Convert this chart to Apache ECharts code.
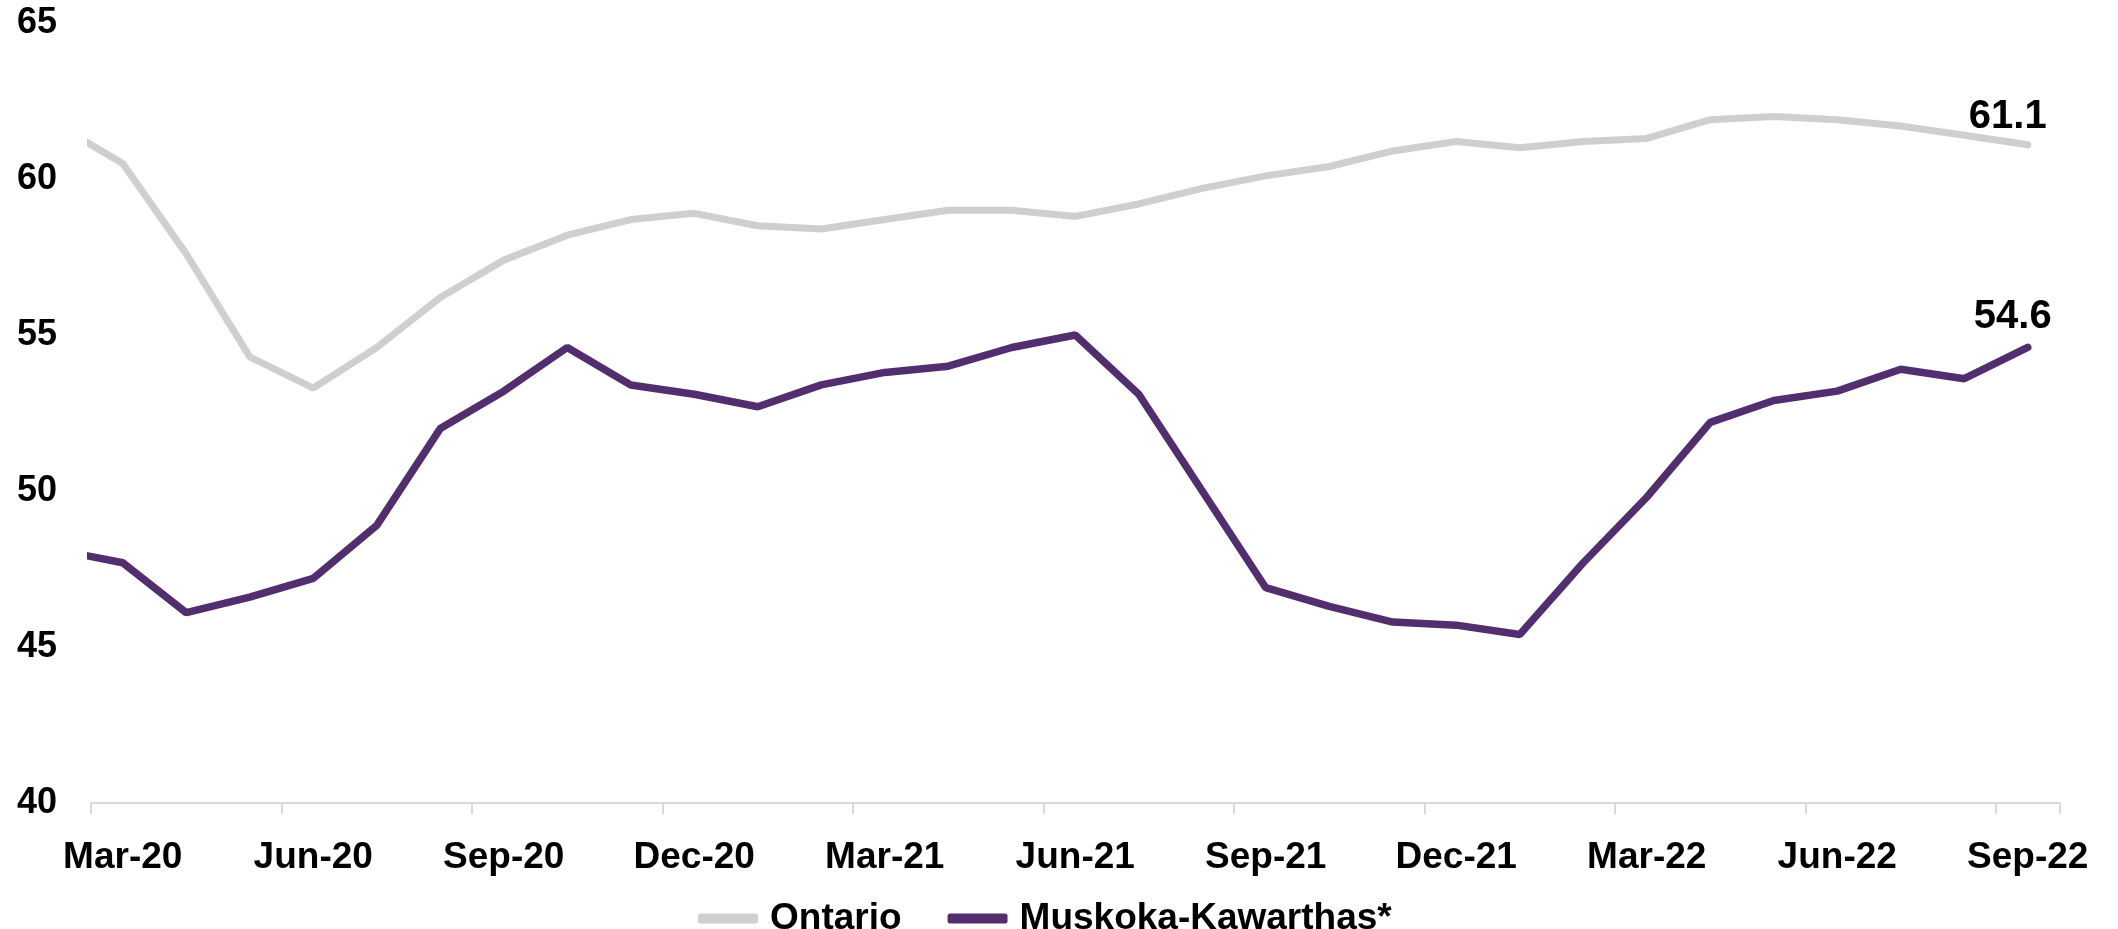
<!DOCTYPE html>
<html>
<head>
<meta charset="utf-8">
<script src="https://cdn.jsdelivr.net/npm/echarts@6/dist/echarts.min.js"></script>
<style>
  html, body { margin: 0; padding: 0; background: #ffffff; }
  #chart { width: 2118px; height: 929px; }
</style>
</head>
<body>
<div id="chart"></div>
<script>
// Monthly categories (Feb-20 is just before the visible axis; its segment is clipped)
const categories = [
  'Feb-20','Mar-20','Apr-20','May-20','Jun-20','Jul-20','Aug-20','Sep-20','Oct-20','Nov-20','Dec-20',
  'Jan-21','Feb-21','Mar-21','Apr-21','May-21','Jun-21','Jul-21','Aug-21','Sep-21','Oct-21','Nov-21','Dec-21',
  'Jan-22','Feb-22','Mar-22','Apr-22','May-22','Jun-22','Jul-22','Aug-22','Sep-22'
];
const ontario = [
  61.7, 60.5, 57.6, 54.3, 53.3, 54.6, 56.2, 57.4, 58.2, 58.7, 58.9,
  58.5, 58.4, 58.7, 59.0, 59.0, 58.8, 59.2, 59.7, 60.1, 60.4, 60.9, 61.2,
  61.0, 61.2, 61.3, 61.9, 62.0, 61.9, 61.7, 61.4, 61.1
];
const muskoka = [
  48.1, 47.7, 46.1, 46.6, 47.2, 48.9, 52.0, 53.2, 54.6, 53.4, 53.1,
  52.7, 53.4, 53.8, 54.0, 54.6, 55.0, 53.1, 50.0, 46.9, 46.3, 45.8, 45.7,
  45.4, 47.7, 49.8, 52.2, 52.9, 53.2, 53.9, 53.6, 54.6
];
const seriesNames = ['Ontario', 'Muskoka-Kawarthas*'];
const yTicks = { min: 40, max: 65, interval: 5 };

const FONT = '"Liberation Sans", Arial, sans-serif';
const showEvery3 = (idx) => idx % 3 === 1;
const endLabelStyle = (dx, dy) => ({
  show: true,
  formatter: (p) => Number(p.value).toFixed(1),
  distance: 0,
  align: 'center',
  verticalAlign: 'bottom',
  offset: [dx, dy],
  fontFamily: FONT, fontSize: 40, fontWeight: 'bold', color: '#000'
});

const chart = echarts.init(document.getElementById('chart'), null, { renderer: 'canvas' });
chart.setOption({
  animation: false,
  backgroundColor: '#ffffff',
  grid: { left: 91, right: 58.5, top: 23, bottom: 126 },
  legend: {
    data: seriesNames,
    left: 693,
    top: 895,
    itemWidth: 60,
    itemHeight: 10,
    itemGap: 46,
    icon: 'roundRect',
    textStyle: { fontFamily: FONT, fontSize: 37, fontWeight: 'bold', color: '#000', padding: [0, 0, 0, 7] }
  },
  xAxis: {
    type: 'category',
    data: categories,
    min: 1,
    boundaryGap: true,
    axisLine: { show: true, lineStyle: { color: '#D9D9D9', width: 2 } },
    axisTick: { show: true, interval: showEvery3, length: 11, lineStyle: { color: '#D9D9D9', width: 2 } },
    axisLabel: { interval: showEvery3, margin: 36, fontFamily: FONT, fontSize: 37, fontWeight: 'bold', color: '#000' },
    splitLine: { show: false }
  },
  yAxis: {
    type: 'value',
    min: yTicks.min, max: yTicks.max, interval: yTicks.interval,
    axisLine: { show: false },
    axisTick: { show: false },
    splitLine: { show: false },
    axisLabel: { margin: 34, fontFamily: FONT, fontSize: 36, fontWeight: 'bold', color: '#000' }
  },
  series: [
    {
      name: seriesNames[0], type: 'line', data: ontario, showSymbol: false, symbol: 'none',
      color: '#D0CECE',
      lineStyle: { width: 7, color: '#D0CECE', cap: 'round' },
      endLabel: endLabelStyle(-20, -8),
      z: 2
    },
    {
      name: seriesNames[1], type: 'line', data: muskoka, showSymbol: false, symbol: 'none',
      color: '#532E6E',
      lineStyle: { width: 7.5, color: '#532E6E', cap: 'round' },
      endLabel: endLabelStyle(-15, -11),
      z: 3
    }
  ]
});
</script>
</body>
</html>
